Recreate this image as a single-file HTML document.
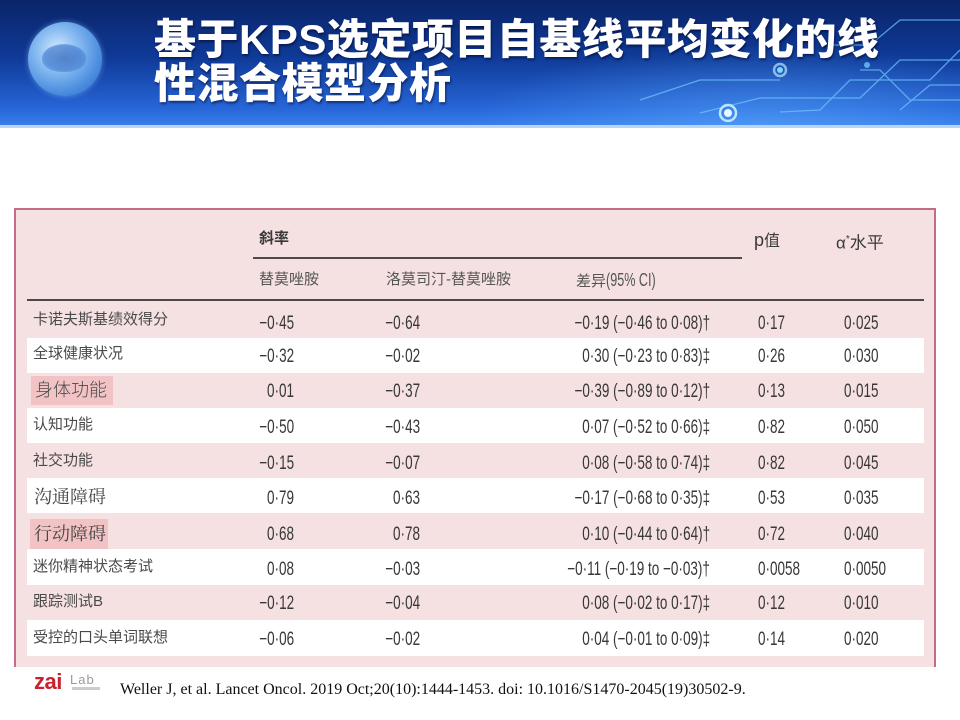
<!DOCTYPE html>
<html><head><meta charset="utf-8">
<style>
*{margin:0;padding:0;box-sizing:border-box}
body{width:960px;height:720px;overflow:hidden;background:#fff;position:relative;font-family:"Liberation Sans","Noto Sans CJK SC",sans-serif}
.hdr{position:absolute;left:0;top:0;width:960px;height:128px;
background:linear-gradient(180deg,#0a2468 0%,#0f3a98 45%,#2766d8 85%,#3b82ee 100%);overflow:hidden}
.hdr .glow{position:absolute;left:0;top:0;width:960px;height:128px;
background:radial-gradient(ellipse 420px 120px at 760px 128px,rgba(90,170,255,.55),rgba(90,170,255,0) 70%)}
.hdr .line{position:absolute;left:0;top:125px;width:960px;height:3px;background:#b9d4f6}
.globe{position:absolute;left:28px;top:22px;width:74px;height:74px;border-radius:50%;
background:radial-gradient(circle at 40% 38%,#d8ecff 0%,#8ec0f2 30%,#4d8fe0 65%,#2b63c4 100%);
box-shadow:0 0 6px rgba(150,200,255,.5)}
.globe .b{position:absolute;left:14px;top:22px;width:44px;height:28px;border-radius:50% 50% 45% 45%;
background:radial-gradient(ellipse at 50% 50%,#3a6fc0 0%,#4f86d4 60%,rgba(80,130,210,0) 100%);opacity:.8}
.title{position:absolute;left:154px;top:18px;color:#fff;font-family:"Liberation Sans","Noto Sans CJK SC",sans-serif;
font-weight:900;font-size:42px;line-height:44px;letter-spacing:0.5px;text-shadow:1px 2px 2px rgba(0,0,30,.5)}
.box{position:absolute;left:14px;top:208px;width:922px;height:459px;background:#f5e1e1;
border-left:2px solid #c46b86;border-top:2px solid #c46b86;border-right:2px solid #c46b86}
.row{position:absolute;left:27px;width:897px}
.w{background:#fff}
.c{position:absolute;white-space:nowrap;color:#383838}
.n{font-family:"Liberation Sans",sans-serif;font-size:19px;display:inline-block}
.r .n{transform:scaleX(.71);transform-origin:right center}
.l .n{transform:scaleX(.71);transform-origin:left center}
.lab{font-family:"Liberation Sans","Noto Sans CJK SC",sans-serif;font-size:15px;color:#4a4a4a;font-weight:400}
.big{font-family:"Liberation Serif","Noto Serif CJK SC",serif;font-size:18px;color:#444}
.bigs{font-family:"Liberation Sans","Noto Sans CJK SC",sans-serif;font-size:18px;color:#4a4a4a;font-weight:300}
.hl{position:absolute;background:#f2c3c5}
.hd{font-family:"Liberation Sans","Noto Sans CJK SC",sans-serif;font-size:15px;color:#3a3a3a}
.rule{position:absolute;background:#4a4a4a}
.foot{position:absolute;left:120px;top:680px;font-family:"Liberation Serif",serif;font-size:16px;line-height:20px;color:#111}
</style></head><body>
<div class="hdr">
<div class="glow"></div>
<svg style="position:absolute;left:0;top:0" width="960" height="128">
<g fill="none" stroke="#6fc3ff" stroke-width="1.3" opacity=".75">
<path d="M700 113 L760 98 L860 98 L900 60 L960 60"/>
<path d="M780 112 L820 110 L850 80 L930 80 L960 50"/>
<path d="M830 45 L870 45 L900 20 L960 20"/>
<path d="M860 70 L880 70 L910 100 L960 100"/>
<path d="M900 110 L930 85 L960 85"/>
<path d="M640 100 L700 80 L780 80"/>
</g>
<g fill="none" stroke="#b8e6ff" stroke-width="2.5">
<circle cx="728" cy="113" r="8"/>
<circle cx="780" cy="70" r="6" opacity=".7"/>
</g>
<circle cx="728" cy="113" r="4" fill="#e8f8ff"/>
<circle cx="780" cy="70" r="3" fill="#7fd4ff"/>
<circle cx="867" cy="65" r="3" fill="#7fd4ff" opacity=".7"/>
</svg>
<div class="line"></div>
<div class="globe"><div class="b"></div></div>
<div class="title">基于KPS选定项目自基线平均变化的线<br>性混合模型分析</div>
</div>

<div class="box"></div>

<!-- header -->
<div class="c hd" style="left:259px;top:228px;font-weight:bold;line-height:22px">斜率</div>
<div class="c hd" style="left:754px;top:229px;line-height:22px;font-size:16px"><span style="font-size:18px">p</span>值</div>
<div class="c hd" style="left:836px;top:229px;line-height:22px;font-size:17px">α<sup style="font-size:10px">*</sup>水平</div>
<div class="rule" style="left:253px;top:257px;width:489px;height:1.5px"></div>
<div class="c hd" style="left:259px;top:269px;line-height:22px;color:#555">替莫唑胺</div>
<div class="c hd" style="left:386px;top:269px;line-height:22px;color:#555">洛莫司汀-替莫唑胺</div>
<div class="c hd" style="left:576px;top:269px;line-height:22px;color:#555">差异<span class="n" style="transform:scaleX(.7);transform-origin:left center;font-size:18px">(95% CI)</span></div>
<div class="rule" style="left:27px;top:299px;width:897px;height:2px"></div>

<!-- rows -->
<div class="row w" style="top:338px;height:35px"></div>
<div class="row w" style="top:408px;height:35px"></div>
<div class="row w" style="top:478px;height:35px"></div>
<div class="row w" style="top:549px;height:36px"></div>
<div class="row w" style="top:620px;height:36px"></div>
<div class="hl" style="left:31px;top:376px;width:82px;height:29px"></div>
<div class="hl" style="left:30px;top:519px;width:78px;height:30px"></div>

<div class="c lab" style="left:33px;top:308px;line-height:24px">卡诺夫斯基绩效得分</div>
<div class="c r" style="right:666px;top:312px;line-height:24px"><span class="n">−0·45</span></div>
<div class="c r" style="right:540px;top:312px;line-height:24px"><span class="n">−0·64</span></div>
<div class="c r" style="right:250px;top:312px;line-height:24px"><span class="n">−0·19 (−0·46 to 0·08)†</span></div>
<div class="c l" style="left:758px;top:312px;line-height:24px"><span class="n">0·17</span></div>
<div class="c l" style="left:844px;top:312px;line-height:24px"><span class="n">0·025</span></div>

<div class="c lab" style="left:33px;top:342px;line-height:24px">全球健康状况</div>
<div class="c r" style="right:666px;top:345px;line-height:24px"><span class="n">−0·32</span></div>
<div class="c r" style="right:540px;top:345px;line-height:24px"><span class="n">−0·02</span></div>
<div class="c r" style="right:250px;top:345px;line-height:24px"><span class="n">0·30 (−0·23 to 0·83)‡</span></div>
<div class="c l" style="left:758px;top:345px;line-height:24px"><span class="n">0·26</span></div>
<div class="c l" style="left:844px;top:345px;line-height:24px"><span class="n">0·030</span></div>

<div class="c bigs" style="left:35px;top:377px;line-height:26px">身体功能</div>
<div class="c r" style="right:666px;top:380px;line-height:24px"><span class="n">0·01</span></div>
<div class="c r" style="right:540px;top:380px;line-height:24px"><span class="n">−0·37</span></div>
<div class="c r" style="right:250px;top:380px;line-height:24px"><span class="n">−0·39 (−0·89 to 0·12)†</span></div>
<div class="c l" style="left:758px;top:380px;line-height:24px"><span class="n">0·13</span></div>
<div class="c l" style="left:844px;top:380px;line-height:24px"><span class="n">0·015</span></div>

<div class="c lab" style="left:33px;top:413px;line-height:24px">认知功能</div>
<div class="c r" style="right:666px;top:416px;line-height:24px"><span class="n">−0·50</span></div>
<div class="c r" style="right:540px;top:416px;line-height:24px"><span class="n">−0·43</span></div>
<div class="c r" style="right:250px;top:416px;line-height:24px"><span class="n">0·07 (−0·52 to 0·66)‡</span></div>
<div class="c l" style="left:758px;top:416px;line-height:24px"><span class="n">0·82</span></div>
<div class="c l" style="left:844px;top:416px;line-height:24px"><span class="n">0·050</span></div>

<div class="c lab" style="left:33px;top:449px;line-height:24px">社交功能</div>
<div class="c r" style="right:666px;top:452px;line-height:24px"><span class="n">−0·15</span></div>
<div class="c r" style="right:540px;top:452px;line-height:24px"><span class="n">−0·07</span></div>
<div class="c r" style="right:250px;top:452px;line-height:24px"><span class="n">0·08 (−0·58 to 0·74)‡</span></div>
<div class="c l" style="left:758px;top:452px;line-height:24px"><span class="n">0·82</span></div>
<div class="c l" style="left:844px;top:452px;line-height:24px"><span class="n">0·045</span></div>

<div class="c big" style="left:34px;top:484px;line-height:26px">沟通障碍</div>
<div class="c r" style="right:666px;top:487px;line-height:24px"><span class="n">0·79</span></div>
<div class="c r" style="right:540px;top:487px;line-height:24px"><span class="n">0·63</span></div>
<div class="c r" style="right:250px;top:487px;line-height:24px"><span class="n">−0·17 (−0·68 to 0·35)‡</span></div>
<div class="c l" style="left:758px;top:487px;line-height:24px"><span class="n">0·53</span></div>
<div class="c l" style="left:844px;top:487px;line-height:24px"><span class="n">0·035</span></div>

<div class="c big" style="left:34px;top:521px;line-height:26px">行动障碍</div>
<div class="c r" style="right:666px;top:523px;line-height:24px"><span class="n">0·68</span></div>
<div class="c r" style="right:540px;top:523px;line-height:24px"><span class="n">0·78</span></div>
<div class="c r" style="right:250px;top:523px;line-height:24px"><span class="n">0·10 (−0·44 to 0·64)†</span></div>
<div class="c l" style="left:758px;top:523px;line-height:24px"><span class="n">0·72</span></div>
<div class="c l" style="left:844px;top:523px;line-height:24px"><span class="n">0·040</span></div>

<div class="c lab" style="left:33px;top:555px;line-height:24px">迷你精神状态考试</div>
<div class="c r" style="right:666px;top:558px;line-height:24px"><span class="n">0·08</span></div>
<div class="c r" style="right:540px;top:558px;line-height:24px"><span class="n">−0·03</span></div>
<div class="c r" style="right:250px;top:558px;line-height:24px"><span class="n">−0·11 (−0·19 to −0·03)†</span></div>
<div class="c l" style="left:758px;top:558px;line-height:24px"><span class="n">0·0058</span></div>
<div class="c l" style="left:844px;top:558px;line-height:24px"><span class="n">0·0050</span></div>

<div class="c lab" style="left:33px;top:590px;line-height:24px">跟踪测试B</div>
<div class="c r" style="right:666px;top:592px;line-height:24px"><span class="n">−0·12</span></div>
<div class="c r" style="right:540px;top:592px;line-height:24px"><span class="n">−0·04</span></div>
<div class="c r" style="right:250px;top:592px;line-height:24px"><span class="n">0·08 (−0·02 to 0·17)‡</span></div>
<div class="c l" style="left:758px;top:592px;line-height:24px"><span class="n">0·12</span></div>
<div class="c l" style="left:844px;top:592px;line-height:24px"><span class="n">0·010</span></div>

<div class="c lab" style="left:33px;top:626px;line-height:24px">受控的口头单词联想</div>
<div class="c r" style="right:666px;top:628px;line-height:24px"><span class="n">−0·06</span></div>
<div class="c r" style="right:540px;top:628px;line-height:24px"><span class="n">−0·02</span></div>
<div class="c r" style="right:250px;top:628px;line-height:24px"><span class="n">0·04 (−0·01 to 0·09)‡</span></div>
<div class="c l" style="left:758px;top:628px;line-height:24px"><span class="n">0·14</span></div>
<div class="c l" style="left:844px;top:628px;line-height:24px"><span class="n">0·020</span></div>

<!-- footer -->
<div style="position:absolute;left:34px;top:670px;font-family:'Liberation Sans',sans-serif;font-weight:bold;font-size:22px;color:#c8202c;line-height:24px;letter-spacing:-0.5px">zai</div>
<div style="position:absolute;left:70px;top:673px;font-family:'Liberation Sans',sans-serif;font-size:13px;color:#999;line-height:14px;letter-spacing:1px">Lab</div>
<div style="position:absolute;left:72px;top:687px;width:28px;height:3px;background:#ccc"></div>
<div class="foot">Weller J, et al. Lancet Oncol. 2019 Oct;20(10):1444-1453. doi: 10.1016/S1470-2045(19)30502-9.</div>
</body></html>
